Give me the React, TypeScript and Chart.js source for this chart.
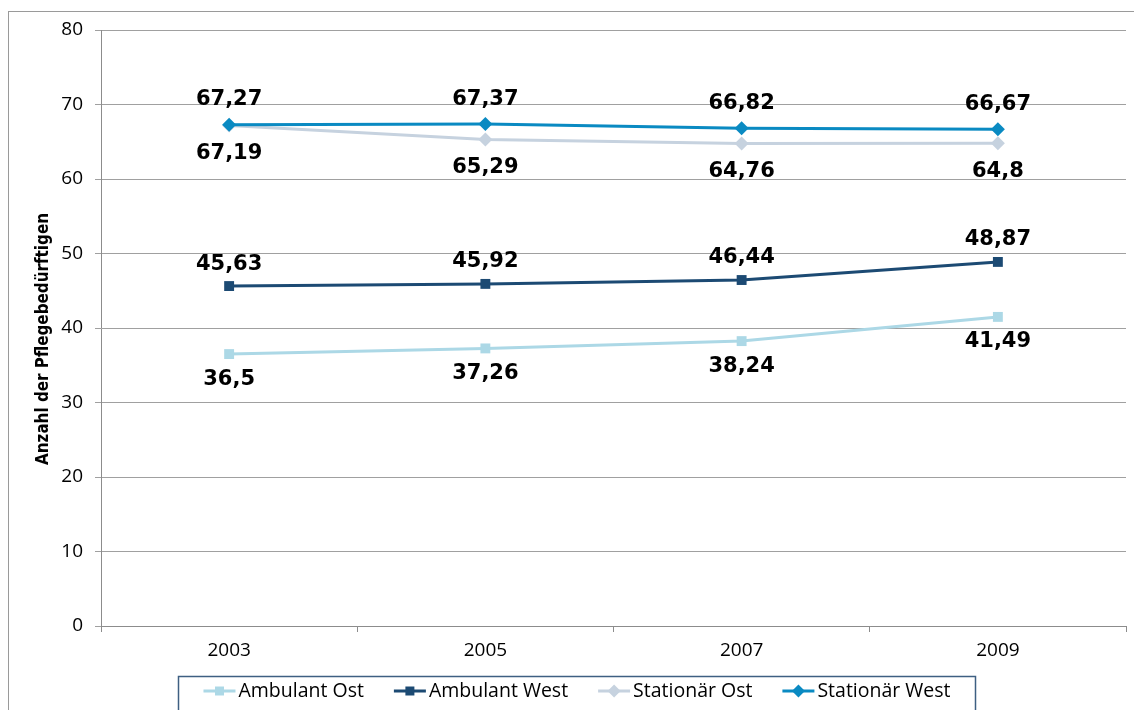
import React, { useEffect, useRef } from "react";
import { Chart, registerables } from "chart.js";

Chart.register(...registerables);

const categories = ["2003", "2005", "2007", "2009"];
const ambulantOst = [36.5, 37.26, 38.24, 41.49];
const ambulantWest = [45.63, 45.92, 46.44, 48.87];
const stationaerOst = [67.19, 65.29, 64.76, 64.8];
const stationaerWest = [67.27, 67.37, 66.82, 66.67];
const seriesNames = ["Ambulant Ost", "Ambulant West", "Stationär Ost", "Stationär West"];
const yMin = 0;
const yMax = 80;
const yStep = 10;
const yAxisTitle = "Anzahl der Pflegebedürftigen";

const seriesColors = ["#acd8e6", "#1c4a73", "#c6d2df", "#0a8ac2"];
const seriesPointStyles = ["rect", "rect", "rectRot", "rectRot"];
const labelOffsets = [25, -22, 28, -25];

const fmt = (v: number) => String(v).replace(".", ",");

const framePlugin = {
  id: "frame",
  beforeDraw(chart: any) {
    const ctx = chart.ctx;
    ctx.save();
    ctx.fillStyle = "#ffffff";
    ctx.fillRect(0, 0, chart.width, chart.height);
    ctx.strokeStyle = "#9a9a9a";
    ctx.lineWidth = 1;
    ctx.strokeRect(8.5, 11.5, chart.width + 50, chart.height + 50);
    ctx.restore();
  },
};

const titlePlugin = {
  id: "yTitle",
  afterDraw(chart: any) {
    const ctx = chart.ctx;
    ctx.save();
    ctx.translate(44, 339);
    ctx.rotate(-Math.PI / 2);
    ctx.font = 'bold 17px "DejaVu Sans Condensed", "DejaVu Sans", sans-serif';
    ctx.fillStyle = "#000";
    ctx.textAlign = "center";
    ctx.textBaseline = "middle";
    const w = ctx.measureText(yAxisTitle).width;
    const target = 252;
    ctx.scale(target / w, 1);
    ctx.fillText(yAxisTitle, 0, 0);
    ctx.restore();
  },
};

const dataLabelPlugin = {
  id: "dataLabels",
  afterDatasetsDraw(chart: any) {
    const ctx = chart.ctx;
    ctx.save();
    ctx.font = 'bold 21px "DejaVu Sans", sans-serif';
    ctx.fillStyle = "#000";
    ctx.textAlign = "center";
    ctx.textBaseline = "middle";
    chart.data.datasets.forEach((ds: any, i: number) => {
      const meta = chart.getDatasetMeta(i);
      meta.data.forEach((pt: any, j: number) => {
        ctx.fillText(fmt(ds.data[j]), pt.x, pt.y + labelOffsets[i]);
      });
    });
    ctx.restore();
  },
};

function drawMarker(ctx: CanvasRenderingContext2D, style: string, x: number, y: number, color: string) {
  ctx.fillStyle = color;
  ctx.beginPath();
  if (style === "rect") {
    ctx.rect(x - 4.5, y - 4.5, 9, 9);
  } else {
    ctx.moveTo(x, y - 6.5);
    ctx.lineTo(x + 6.5, y);
    ctx.lineTo(x, y + 6.5);
    ctx.lineTo(x - 6.5, y);
    ctx.closePath();
  }
  ctx.fill();
}

const legendPlugin = {
  id: "boxLegend",
  afterDraw(chart: any) {
    const ctx = chart.ctx;
    ctx.save();
    const bx = 178.5, by = 676.5, bw = 797, bh = 50;
    ctx.strokeStyle = "#3e5f82";
    ctx.lineWidth = 1.5;
    ctx.strokeRect(bx, by, bw, bh);
    ctx.font = '19.5px "Open Sans", sans-serif';
    const markerW = 32, gap = 3, itemGap = 30;
    const widths = seriesNames.map((n) => ctx.measureText(n).width);
    const total = widths.reduce((a, w) => a + markerW + gap + w, 0) + itemGap * (seriesNames.length - 1);
    let x = bx + bw / 2 - total / 2;
    const y = 691;
    seriesNames.forEach((name, i) => {
      ctx.strokeStyle = seriesColors[i];
      ctx.lineWidth = 3;
      ctx.beginPath();
      ctx.moveTo(x, y);
      ctx.lineTo(x + markerW, y);
      ctx.stroke();
      drawMarker(ctx, seriesPointStyles[i], x + markerW / 2, y, seriesColors[i]);
      ctx.fillStyle = "#000";
      ctx.textAlign = "left";
      ctx.textBaseline = "middle";
      ctx.fillText(name, x + markerW + gap, y);
      x += markerW + gap + widths[i] + itemGap;
    });
    ctx.restore();
  },
};

export default function App() {
  const ref = useRef<HTMLCanvasElement | null>(null);

  useEffect(() => {
    if (!ref.current) return;
    const seriesData = [ambulantOst, ambulantWest, stationaerOst, stationaerWest];
    const drawOrder = [3, 2, 1, 0];
    const chart = new Chart(ref.current, {
      type: "line",
      data: {
        labels: categories,
        datasets: seriesData.map((d, i) => ({
          label: seriesNames[i],
          data: d,
          borderColor: seriesColors[i],
          backgroundColor: seriesColors[i],
          borderWidth: 3,
          pointStyle: seriesPointStyles[i] as any,
          pointRadius: 7,
          pointBorderWidth: 0,
          pointBackgroundColor: seriesColors[i],
          tension: 0,
          fill: false,
          order: drawOrder[i],
        })),
      },
      options: {
        animation: false,
        responsive: false,
        maintainAspectRatio: false,
        layout: { padding: { top: 30, right: 8, left: 0, bottom: 0 } },
        plugins: {
          legend: { display: false },
          tooltip: { enabled: false },
        },
        scales: {
          x: {
            offset: true,
            grid: {
              offset: true,
              drawOnChartArea: false,
              drawTicks: true,
              tickLength: 6,
              color: "#8c8c8c",
            },
            border: { color: "#8c8c8c", width: 1 },
            ticks: {
              color: "#000",
              font: { family: '"Open Sans", sans-serif', size: 19 },
              padding: 7,
            },
            afterFit(scale: any) {
              scale.height = 84;
            },
          },
          y: {
            min: yMin,
            max: yMax,
            ticks: {
              stepSize: yStep,
              color: "#000",
              font: { family: '"Open Sans", sans-serif', size: 19 },
              padding: 12,
            },
            grid: {
              color: "#a0a0a0",
              tickLength: 6,
            },
            border: { color: "#8c8c8c", width: 1 },
            afterFit(scale: any) {
              scale.width = 101;
            },
          },
        },
      },
      plugins: [framePlugin, dataLabelPlugin, titlePlugin, legendPlugin],
    });
    return () => chart.destroy();
  }, []);

  return (
    <div style={{ position: "fixed", left: 0, top: 0, width: 1134, height: 710, background: "#fff" }}>
      <canvas ref={ref} width={1134} height={710} />
    </div>
  );
}
